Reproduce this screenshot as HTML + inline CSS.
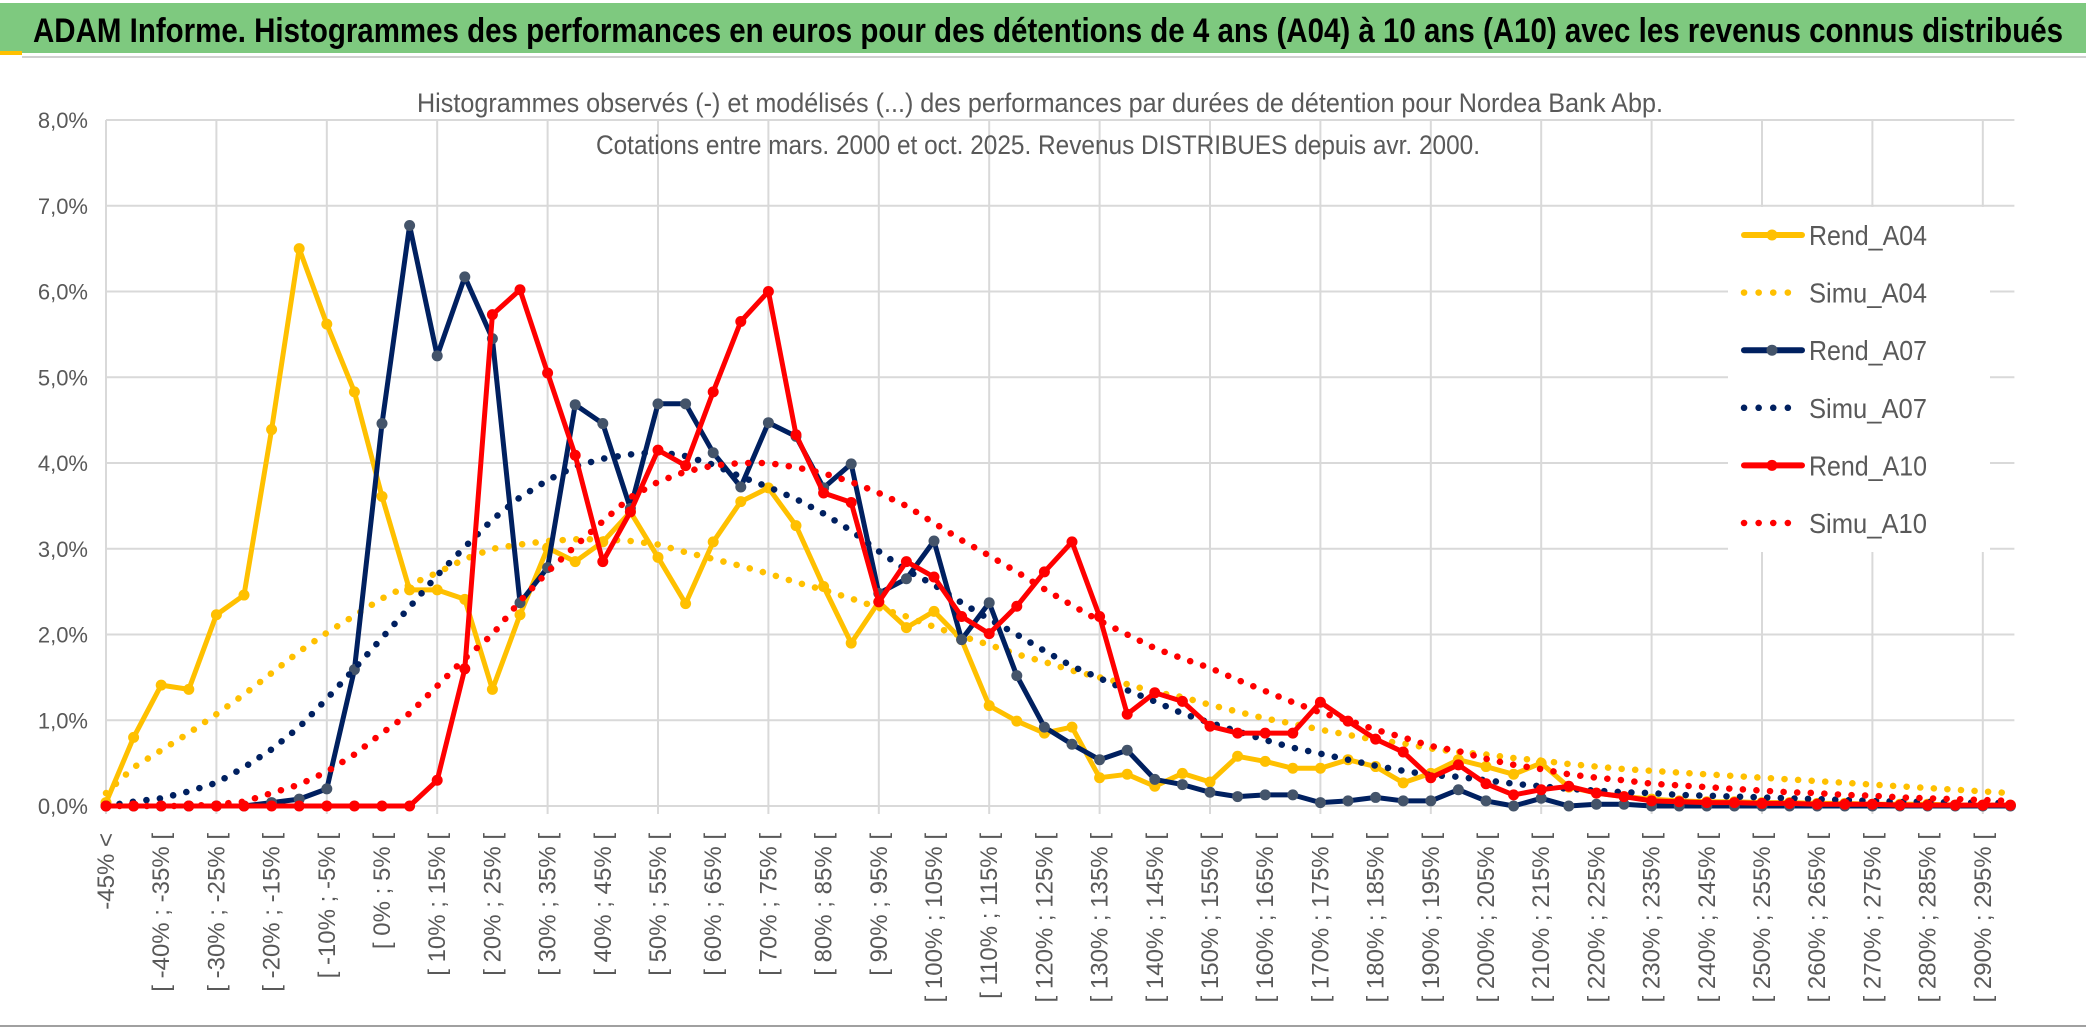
<!DOCTYPE html>
<html><head><meta charset="utf-8">
<style>
html,body{margin:0;padding:0;background:#fff;}
svg{display:block;font-family:"Liberation Sans",sans-serif;}
</style></head>
<body>
<svg id="chart" width="2086" height="1033" viewBox="0 0 2086 1033">
  <rect x="0" y="0" width="2086" height="1033" fill="#fff"/>
  <rect x="0" y="3" width="2086" height="50" fill="#7ec97f"/>
  <rect x="0" y="51" width="22" height="4" fill="#ffc000"/>
  <line x1="22" y1="57" x2="2086" y2="57" stroke="#d0d0d0" stroke-width="2"/>
  <text x="33" y="42" font-size="34" font-weight="bold" fill="#000" textLength="2030" lengthAdjust="spacingAndGlyphs">ADAM Informe. Histogrammes des performances en euros pour des détentions de 4 ans (A04) à 10 ans (A10) avec les revenus connus distribués</text>
  <g id="grid"></g>
  <g id="yaxis"></g>
  <g id="xaxis"></g>
  <text x="417" y="112" font-size="27" fill="#595959" textLength="1246" lengthAdjust="spacingAndGlyphs">Histogrammes observés (-) et modélisés (...) des performances par durées de détention pour Nordea Bank Abp.</text>
  <text x="596" y="154" font-size="27" fill="#595959" textLength="884" lengthAdjust="spacingAndGlyphs">Cotations entre mars. 2000 et oct. 2025. Revenus DISTRIBUES depuis avr. 2000.</text>
  <g id="series"></g>
  <g id="legend"></g>
  <line x1="0" y1="1026" x2="2086" y2="1026" stroke="#a0a0a0" stroke-width="2"/>
</svg>
<script>
const rendA04 = [0.04,0.80,1.41,1.36,2.23,2.46,4.39,6.50,5.62,4.83,3.61,2.52,2.52,2.41,1.36,2.23,3.01,2.85,3.08,3.43,
2.90,2.36,3.08,3.55,3.71,3.27,2.56,1.90,2.38,2.08,2.27,1.94,1.17,0.99,0.85,0.92,0.33,0.37,0.23,0.38,
0.28,0.58,0.52,0.44,0.44,0.54,0.46,0.27,0.38,0.54,0.46,0.37,0.50,0.22,0.15,0.11,0.08,0.06,0.05,0.05,
0.04,0.04,0.03,0.03,0.02,0.02,0.02,0.01,0.01,0.01];
const simuA04 = [0.15,0.45,0.65,0.85,1.07,1.30,1.55,1.80,2.02,2.22,2.42,2.58,2.72,2.88,3.00,3.05,3.09,3.11,3.11,3.09,
3.05,2.96,2.88,2.80,2.71,2.61,2.52,2.42,2.31,2.21,2.09,1.98,1.88,1.77,1.68,1.58,1.50,1.42,1.33,1.27,
1.18,1.10,1.02,0.96,0.89,0.83,0.77,0.73,0.67,0.63,0.60,0.56,0.53,0.49,0.46,0.43,0.41,0.39,0.37,0.35,
0.33,0.31,0.29,0.27,0.25,0.23,0.21,0.19,0.17,0.15];
const rendA07 = [0,0,0,0,0,0,0.04,0.08,0.20,1.59,4.46,6.77,5.25,6.17,5.45,2.37,2.78,4.68,4.46,3.47,
4.69,4.69,4.12,3.72,4.47,4.31,3.71,3.99,2.48,2.65,3.09,1.94,2.37,1.52,0.92,0.72,0.54,0.65,0.31,0.25,
0.16,0.11,0.13,0.13,0.04,0.06,0.10,0.06,0.06,0.19,0.06,0,0.09,0,0.02,0.02,0,0,0,0,
0,0,0,0,0,0,0,0,0,0];
const simuA07 = [0.00,0.05,0.09,0.17,0.27,0.45,0.66,0.92,1.25,1.60,1.96,2.32,2.69,3.02,3.34,3.60,3.80,3.96,4.05,4.10,
4.13,4.08,3.98,3.84,3.72,3.58,3.41,3.21,2.97,2.75,2.58,2.37,2.18,2.00,1.81,1.63,1.49,1.35,1.22,1.08,
0.97,0.87,0.77,0.68,0.61,0.54,0.47,0.41,0.36,0.34,0.30,0.26,0.23,0.20,0.18,0.16,0.15,0.13,0.12,0.11,
0.10,0.09,0.08,0.07,0.06,0.05,0.05,0.04,0.04,0.03];
const rendA10 = [0,0,0,0,0,0,0,0,0,0,0,0,0.30,1.60,5.73,6.02,5.05,4.09,2.85,3.43,
4.15,3.97,4.83,5.65,6.00,4.33,3.65,3.54,2.38,2.85,2.67,2.21,2.01,2.33,2.73,3.08,2.21,1.07,1.32,1.22,
0.93,0.85,0.85,0.85,1.21,0.99,0.78,0.63,0.33,0.48,0.26,0.13,0.19,0.23,0.15,0.11,0.06,0.05,0.04,0.04,
0.03,0.03,0.02,0.02,0.02,0.01,0.01,0.01,0.01,0.01];
const simuA10 = [0,0,0,0,0.02,0.05,0.15,0.25,0.40,0.60,0.85,1.08,1.40,1.72,2.00,2.39,2.73,3.03,3.32,3.60,
3.78,3.90,3.97,4.00,4.00,3.95,3.88,3.78,3.65,3.50,3.30,3.10,2.92,2.73,2.53,2.34,2.16,2.00,1.84,1.72,
1.61,1.47,1.34,1.21,1.09,1.00,0.89,0.80,0.70,0.64,0.55,0.48,0.43,0.37,0.33,0.30,0.26,0.24,0.22,0.20,
0.18,0.16,0.15,0.13,0.12,0.10,0.09,0.08,0.07,0.06];
const yTicks = [0,1,2,3,4,5,6,7,8];
const yTickLabels = ["0,0%","1,0%","2,0%","3,0%","4,0%","5,0%","6,0%","7,0%","8,0%"];
const seriesNames = ["Rend_A04","Simu_A04","Rend_A07","Simu_A07","Rend_A10","Simu_A10"];
const categories = ["-45% <"];
for (let a = -45; a <= 295; a += 5) categories.push("[ " + a + "% ; " + (a + 5) + "% [");

const NS = "http://www.w3.org/2000/svg";
const X0 = 106, DX = 27.6, Y0 = 806, DY = 85.75;
function xs(i){ return X0 + DX * i; }
function ys(v){ return Y0 - DY * v; }
function mk(tag, attrs, parent){
  const e = document.createElementNS(NS, tag);
  for (const k in attrs) e.setAttribute(k, attrs[k]);
  parent.appendChild(e);
  return e;
}
const grid = document.getElementById("grid");
const yaxis = document.getElementById("yaxis");
const xaxis = document.getElementById("xaxis");
const seriesG = document.getElementById("series");
const legend = document.getElementById("legend");
const xEnd = xs(categories.length - 1) + 4;

yTicks.forEach((t, k) => {
  const ln = mk("line", {x1: X0, x2: xEnd, y1: ys(t), y2: ys(t), stroke: "#d9d9d9", "stroke-width": 2}, grid);
  
  
  const tx = mk("text", {x: 88, y: ys(t) + 8, "font-size": 22, fill: "#595959", "text-anchor": "end"}, yaxis);
  tx.textContent = yTickLabels[k];
  
  
});
for (let i = 0; i < categories.length; i += 4) {
  const ln = mk("line", {x1: xs(i), x2: xs(i), y1: ys(8), y2: Y0 + 8, stroke: "#d9d9d9", "stroke-width": 2}, grid);
  
  
}
for (let i = 0; i < categories.length; i += 2) {
  const tx = mk("text", {x: 0, y: 0, "font-size": 24, fill: "#595959", "text-anchor": "end",
    transform: "translate(" + (xs(i) + 8) + ",833) rotate(-90)"}, xaxis);
  tx.textContent = categories[i];
  
  
}

function pts(arr){ return arr.map((v, i) => xs(i).toFixed(1) + "," + ys(v).toFixed(1)).join(" "); }
function solid(arr, color, mcolor, name){
  const g = mk("g", {}, seriesG);
  
  
  const pl = mk("polyline", {points: pts(arr), fill: "none", stroke: color, "stroke-width": 5, "stroke-linejoin": "round"}, g);
  
  
  arr.forEach((v, i) => {
    const c = mk("circle", {cx: xs(i), cy: ys(v), r: 5.5, fill: mcolor}, g);
    
    
  });
}
function dotted(arr, color, name){
  const pl = mk("polyline", {points: pts(arr), fill: "none", stroke: color, "stroke-width": 6.5,
    "stroke-linecap": "round", "stroke-dasharray": "0.1 13.5"}, seriesG);
  
  
}
solid(rendA04, "#ffc000", "#ffc000", "rend-a04");
dotted(simuA04, "#ffc000", "simu-a04");
solid(rendA07, "#002060", "#44546a", "rend-a07");
dotted(simuA07, "#002060", "simu-a07");
solid(rendA10, "#ff0000", "#ff0000", "rend-a10");
dotted(simuA10, "#ff0000", "simu-a10");

const lb = mk("rect", {x: 1728, y: 207, width: 262, height: 345, fill: "#fff"}, legend);


const legColors = ["#ffc000","#ffc000","#002060","#002060","#ff0000","#ff0000"];
const legMarker = ["#ffc000",null,"#44546a",null,"#ff0000",null];
seriesNames.forEach((n, k) => {
  const y = 235 + 57.6 * k;
  const g = mk("g", {}, legend);
  
  
  if (k % 2 === 0) {
    mk("line", {x1: 1744, x2: 1802, y1: y, y2: y, stroke: legColors[k], "stroke-width": 6, "stroke-linecap": "round"}, g);
    mk("circle", {cx: 1772, cy: y, r: 5.5, fill: legMarker[k]}, g);
  } else {
    mk("line", {x1: 1744, x2: 1800, y1: y, y2: y, stroke: legColors[k], "stroke-width": 6.5, "stroke-linecap": "round", "stroke-dasharray": "0.1 14.5"}, g);
  }
  const t = mk("text", {x: 1809, y: y + 10, "font-size": 28, fill: "#595959", textLength: 118, lengthAdjust: "spacingAndGlyphs"}, g);
  t.textContent = n;
});
</script>
</body></html>
